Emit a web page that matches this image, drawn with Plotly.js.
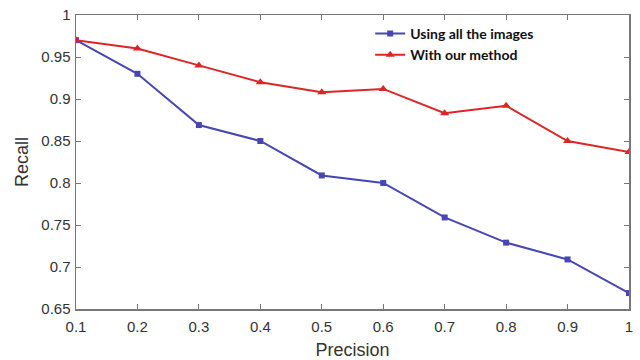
<!DOCTYPE html>
<html>
<head>
<meta charset="utf-8">
<script src="https://cdn.plot.ly/plotly-3.0.1.min.js"></script>
<style>html,body{margin:0;padding:0;background:#fff;}#chart{width:640px;height:360px;}</style>
</head>
<body>
<div id="chart"></div>
<script>
const precision = [0.1, 0.2, 0.3, 0.4, 0.5, 0.6, 0.7, 0.8, 0.9, 1.0];
const recallAllImages = [0.97, 0.93, 0.869, 0.85, 0.809, 0.80, 0.759, 0.729, 0.709, 0.669];
const recallOurMethod = [0.97, 0.96, 0.94, 0.92, 0.908, 0.912, 0.883, 0.892, 0.85, 0.837];
const seriesNames = ["Using all the images", "With our method"];
const yTicks = [0.65, 0.7, 0.75, 0.8, 0.85, 0.9, 0.95, 1];
const xTicks = [0.1, 0.2, 0.3, 0.4, 0.5, 0.6, 0.7, 0.8, 0.9, 1];

const traces = [
  {
    x: precision, y: recallAllImages, name: seriesNames[0],
    type: "scatter", mode: "lines+markers",
    line: {color: "#4646b4", width: 2},
    marker: {symbol: "square", size: 6, color: "#4646b4"}
  },
  {
    x: precision, y: recallOurMethod, name: seriesNames[1],
    type: "scatter", mode: "lines+markers",
    line: {color: "#dc2626", width: 2},
    marker: {symbol: "triangle-up", size: 8, color: "#dc2626"}
  }
];

const axisCommon = {
  showline: true, mirror: "ticks", linecolor: "#777", linewidth: 1.5,
  ticks: "inside", ticklen: 5, tickcolor: "#777", tickwidth: 1,
  showgrid: false, zeroline: false,
  tickfont: {family: "Liberation Sans, Arial, sans-serif", size: 15, color: "#333"}
};

const layout = {
  width: 640, height: 360,
  margin: {l: 76, r: 11, t: 15, b: 51},
  paper_bgcolor: "#fff", plot_bgcolor: "#fff",
  showlegend: true,
  legend: {
    x: 0.532, y: 0.99, xanchor: "left", yanchor: "top",
    bgcolor: "rgba(0,0,0,0)", borderwidth: 0,
    font: {family: "Lato, Open Sans, sans-serif", size: 14, color: "#111", weight: "bold"},
    tracegroupgap: 0
  },
  xaxis: Object.assign({}, axisCommon, {
    range: [0.1, 1], tickvals: xTicks, ticktext: xTicks.map(String),
    ticklabelstandoff: 3,
    title: {text: "Precision", font: {family: "Liberation Sans, Arial, sans-serif", size: 18, color: "#333"}, standoff: 10}
  }),
  yaxis: Object.assign({}, axisCommon, {
    range: [0.65, 1], tickvals: yTicks, ticktext: yTicks.map(String),
    ticklabelstandoff: 1,
    title: {text: "Recall", font: {family: "Liberation Sans, Arial, sans-serif", size: 18, color: "#333"}, standoff: 8}
  })
};

Plotly.newPlot("chart", traces, layout, {displayModeBar: false, staticPlot: true});
</script>
</body>
</html>
